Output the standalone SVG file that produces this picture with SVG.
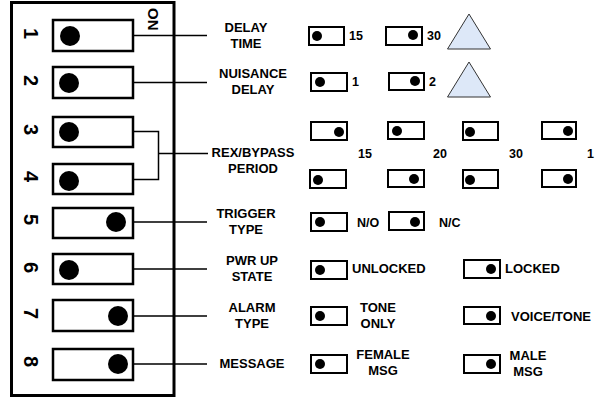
<svg xmlns="http://www.w3.org/2000/svg" width="605" height="402" viewBox="0 0 605 402">
<style>
text{font-family:"Liberation Sans",Arial,sans-serif;font-weight:bold;fill:#000}
.lbl{font-size:13px;text-anchor:middle}
.opt{font-size:13px}
.num{font-size:12.5px}
.dig{font-size:20px}
.sw{fill:#fff;stroke:#000;stroke-width:2.5}
.ss{fill:#fff;stroke:#000;stroke-width:2}
.con{stroke:#000;stroke-width:1.5;fill:none}
.tri{fill:#dde8f8;stroke:#333;stroke-width:1}
</style>
<g id="dip-housing">
<rect x="11.5" y="2.5" width="162.5" height="393" fill="#fff" stroke="#000" stroke-width="3"/>
<text class="dig" style="font-size:15px" transform="translate(148,8) rotate(90)">ON</text>
<text class="dig" transform="translate(24,28) rotate(90)">1</text>
<text class="dig" transform="translate(24,75) rotate(90)">2</text>
<text class="dig" transform="translate(24,124) rotate(90)">3</text>
<text class="dig" transform="translate(24,171) rotate(90)">4</text>
<text class="dig" transform="translate(24,214) rotate(90)">5</text>
<text class="dig" transform="translate(24,262) rotate(90)">6</text>
<text class="dig" transform="translate(24,308) rotate(90)">7</text>
<text class="dig" transform="translate(24,356) rotate(90)">8</text>
</g>
<g id="connectors">
<path class="con" d="M133,35.5H207M133,82.5H207M133,131.5H158.5V179.5H133M158.5,153.5H208M133,222H207M133,269H207M133,316H207M133,364H207"/>
</g>
<g id="sw1"><rect class="sw" x="53" y="20" width="80" height="31"/><circle cx="70" cy="36" r="10"/></g>
<g id="sw2"><rect class="sw" x="53" y="67" width="80" height="31"/><circle cx="69" cy="83" r="10"/></g>
<g id="sw3"><rect class="sw" x="53" y="117" width="80" height="30"/><circle cx="69" cy="132" r="10"/></g>
<g id="sw4"><rect class="sw" x="53" y="164" width="80" height="30"/><circle cx="69" cy="181" r="10"/></g>
<g id="sw5"><rect class="sw" x="53" y="208" width="80" height="30"/><circle cx="116" cy="222" r="10"/></g>
<g id="sw6"><rect class="sw" x="53" y="254" width="80" height="30"/><circle cx="69" cy="270" r="10"/></g>
<g id="sw7"><rect class="sw" x="53" y="300" width="80" height="31"/><circle cx="118" cy="316" r="10"/></g>
<g id="sw8"><rect class="sw" x="53" y="349" width="80" height="31"/><circle cx="118" cy="364" r="10"/></g>

<g id="delay-time">
<text class="lbl" x="246" y="32">DELAY</text><text class="lbl" x="246" y="48">TIME</text>
<rect class="ss" x="309" y="27" width="35" height="18"/><circle cx="317" cy="36" r="5"/>
<text class="num" x="349" y="40">15</text>
<rect class="ss" x="386" y="27" width="36" height="18"/><circle cx="413" cy="35" r="5"/>
<text class="num" x="427" y="40">30</text>
<polygon class="tri" points="469,14 447.5,49 490.5,49"/>
</g>
<g id="nuisance-delay">
<text class="lbl" x="253" y="78">NUISANCE</text><text class="lbl" x="253" y="94">DELAY</text>
<rect class="ss" x="311" y="73" width="36" height="18"/><circle cx="320" cy="82" r="5"/>
<text class="num" x="352" y="86">1</text>
<rect class="ss" x="389" y="73" width="35" height="17"/><circle cx="415" cy="81" r="5"/>
<text class="num" x="429" y="86">2</text>
<polygon class="tri" points="469,62 447.5,97 490.5,97"/>
</g>
<g id="rex-bypass">
<text class="lbl" x="253" y="157">REX/BYPASS</text><text class="lbl" x="253" y="173">PERIOD</text>
<rect class="ss" x="311" y="122" width="36" height="18"/><circle cx="339" cy="132" r="5"/>
<rect class="ss" x="388" y="122" width="36" height="17"/><circle cx="397" cy="131" r="5"/>
<rect class="ss" x="463" y="122" width="35" height="18"/><circle cx="470" cy="132" r="5"/>
<rect class="ss" x="542" y="122" width="34" height="17"/><circle cx="568" cy="131" r="5"/>
<text class="num" x="358" y="158">15</text>
<text class="num" x="433" y="158">20</text>
<text class="num" x="509" y="158">30</text>
<text class="num" x="587" y="158">1</text>
<rect class="ss" x="310" y="170" width="36" height="18"/><circle cx="318" cy="180" r="5"/>
<rect class="ss" x="388" y="170" width="36" height="17"/><circle cx="414" cy="179" r="5"/>
<rect class="ss" x="463" y="170" width="35" height="18"/><circle cx="470" cy="180" r="5"/>
<rect class="ss" x="542" y="170" width="34" height="17"/><circle cx="568" cy="179" r="5"/>
</g>
<g id="trigger-type">
<text class="lbl" x="246" y="218">TRIGGER</text><text class="lbl" x="246" y="234">TYPE</text>
<rect class="ss" x="311" y="213" width="36" height="18"/><circle cx="320" cy="222" r="5"/>
<text class="num" x="357" y="227">N/O</text>
<rect class="ss" x="389" y="212" width="35" height="18"/><circle cx="415" cy="222" r="5"/>
<text class="num" x="439" y="227">N/C</text>
</g>
<g id="pwr-up-state">
<text class="lbl" x="252" y="265">PWR UP</text><text class="lbl" x="252" y="281">STATE</text>
<rect class="ss" x="311" y="261" width="36" height="18"/><circle cx="320" cy="270" r="5"/>
<text class="opt" x="352" y="273">UNLOCKED</text>
<rect class="ss" x="464" y="260" width="36" height="18"/><circle cx="491" cy="269" r="5"/>
<text class="opt" x="505" y="273">LOCKED</text>
</g>
<g id="alarm-type">
<text class="lbl" x="252" y="312">ALARM</text><text class="lbl" x="252" y="328">TYPE</text>
<rect class="ss" x="311" y="307" width="36" height="18"/><circle cx="320" cy="316" r="5"/>
<text class="lbl" x="378" y="312">TONE</text><text class="lbl" x="378" y="328">ONLY</text>
<rect class="ss" x="464" y="307" width="36" height="17"/><circle cx="491" cy="316" r="5"/>
<text class="opt" x="511" y="321">VOICE/TONE</text>
</g>
<g id="message">
<text class="lbl" x="252" y="368">MESSAGE</text>
<rect class="ss" x="311" y="355" width="36" height="18"/><circle cx="320" cy="364" r="5"/>
<text class="lbl" x="383" y="359">FEMALE</text><text class="lbl" x="383" y="375">MSG</text>
<rect class="ss" x="464" y="355" width="36" height="18"/><circle cx="491" cy="364" r="5"/>
<text class="lbl" x="528" y="360">MALE</text><text class="lbl" x="528" y="376">MSG</text>
</g>
</svg>
